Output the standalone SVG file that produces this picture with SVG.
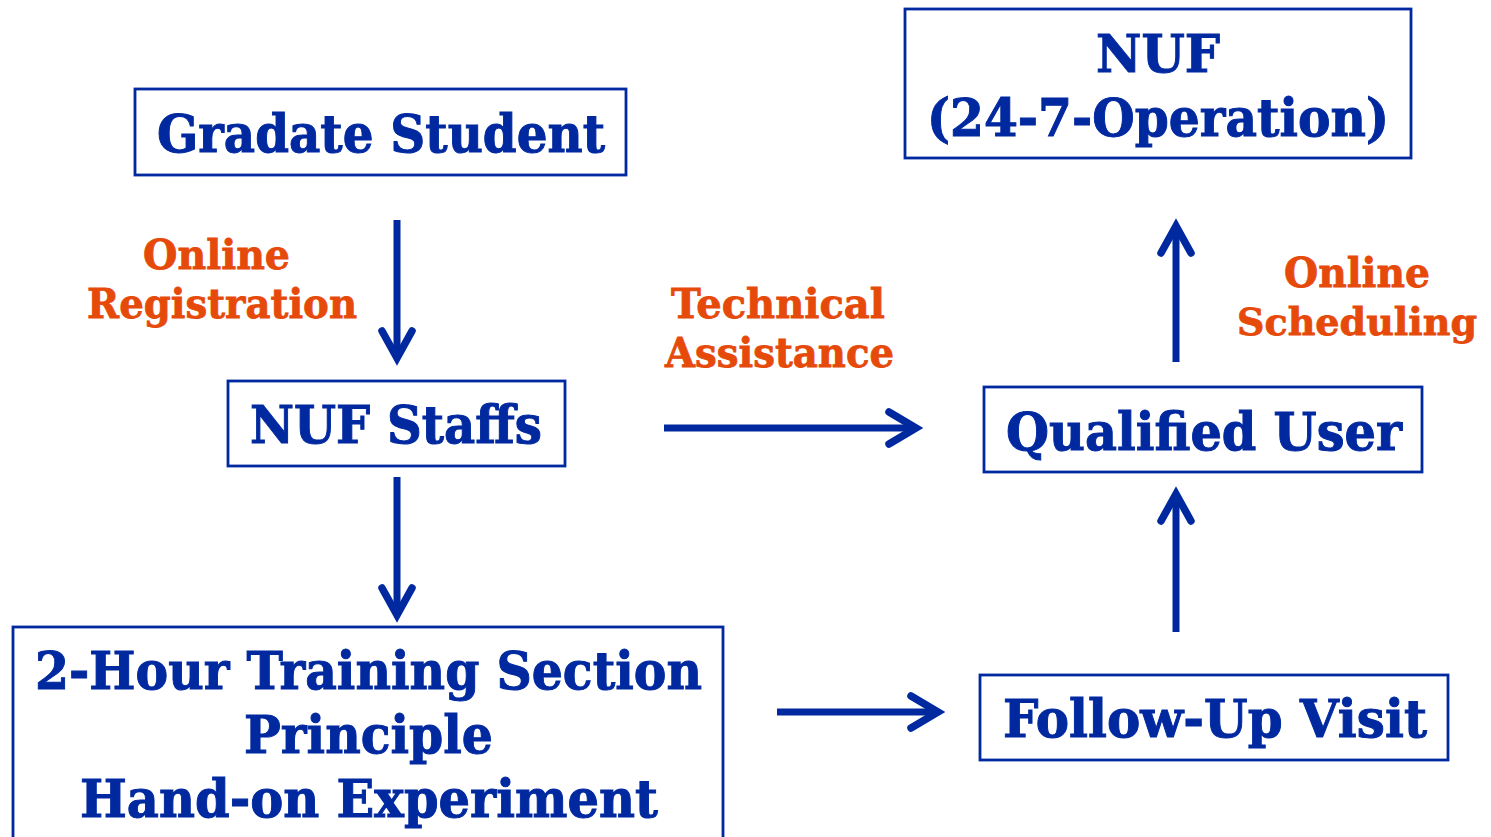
<svg xmlns="http://www.w3.org/2000/svg" width="1491" height="837" viewBox="0 0 1491 837">
<style>
.box{fill:#fff;stroke:#0029A0;stroke-width:2.8}
.t{font-family:"DejaVu Serif","Liberation Serif",serif;font-weight:bold;fill:#0029A0;stroke:#0029A0;stroke-width:1;font-size:53px}
.l{font-family:"DejaVu Serif","Liberation Serif",serif;font-weight:bold;fill:#E64A0A;stroke:#E64A0A;stroke-width:0.8;font-size:41px}
.a{fill:none;stroke:#0029A0;stroke-width:7.5;stroke-linecap:round;stroke-linejoin:miter}
.s{fill:none;stroke:#0029A0;stroke-width:7}
</style>
<rect width="1491" height="837" fill="#fff"/>
<g id="grad">
<rect class="box" x="135" y="89" width="491" height="86"/>
<text class="t" x="157" y="152" textLength="448" lengthAdjust="spacingAndGlyphs">Gradate Student</text>
</g>
<g id="nuf">
<rect class="box" x="905" y="9" width="506" height="149"/>
<text class="t" x="1096" y="72" textLength="124" lengthAdjust="spacingAndGlyphs">NUF</text>
<text class="t" x="927" y="136" textLength="462" lengthAdjust="spacingAndGlyphs">(24-7-Operation)</text>
</g>
<g id="staffs">
<rect class="box" x="228" y="381" width="337" height="85"/>
<text class="t" x="250" y="443" textLength="292" lengthAdjust="spacingAndGlyphs">NUF Staffs</text>
</g>
<g id="qualified">
<rect class="box" x="984" y="387" width="438" height="85"/>
<text class="t" x="1006" y="450" textLength="396" lengthAdjust="spacingAndGlyphs">Qualified User</text>
</g>
<g id="followup">
<rect class="box" x="980" y="675" width="468" height="85"/>
<text class="t" x="1003" y="737" textLength="424" lengthAdjust="spacingAndGlyphs">Follow-Up Visit</text>
</g>
<g id="training">
<rect class="box" x="13" y="627" width="710" height="220"/>
<text class="t" x="35" y="689" textLength="667" lengthAdjust="spacingAndGlyphs">2-Hour Training Section</text>
<text class="t" x="244" y="753" textLength="249" lengthAdjust="spacingAndGlyphs">Principle</text>
<text class="t" x="80" y="817" textLength="578" lengthAdjust="spacingAndGlyphs">Hand-on Experiment</text>
</g>
<g id="labels">
<text class="l" x="143" y="269" textLength="147" lengthAdjust="spacingAndGlyphs">Online</text>
<text class="l" x="87" y="318" textLength="270" lengthAdjust="spacingAndGlyphs">Registration</text>
<text class="l" x="671" y="318" textLength="214" lengthAdjust="spacingAndGlyphs">Technical</text>
<text class="l" x="665" y="367" textLength="229" lengthAdjust="spacingAndGlyphs">Assistance</text>
<text class="l" x="1284" y="287" textLength="146" lengthAdjust="spacingAndGlyphs">Online</text>
<text class="l" x="1237" y="335" style="font-size:38px" textLength="240" lengthAdjust="spacingAndGlyphs">Scheduling</text>
</g>
<g id="connectors">
<line class="s" x1="397" y1="220" x2="397" y2="354"/>
<path class="a" d="M382,331 L397,358 L412,331"/>
<line class="s" x1="397" y1="477" x2="397" y2="611"/>
<path class="a" d="M382,588 L397,615 L412,588"/>
<line class="s" x1="664" y1="428" x2="912" y2="428"/>
<path class="a" d="M889,412 L916,428 L889,444"/>
<line class="s" x1="777" y1="712" x2="934" y2="712"/>
<path class="a" d="M911,696 L938,712 L911,728"/>
<line class="s" x1="1176" y1="632" x2="1176" y2="498"/>
<path class="a" d="M1161,521 L1176,494 L1191,521"/>
<line class="s" x1="1176" y1="362" x2="1176" y2="230"/>
<path class="a" d="M1161,253 L1176,226 L1191,253"/>
</g>
</svg>
